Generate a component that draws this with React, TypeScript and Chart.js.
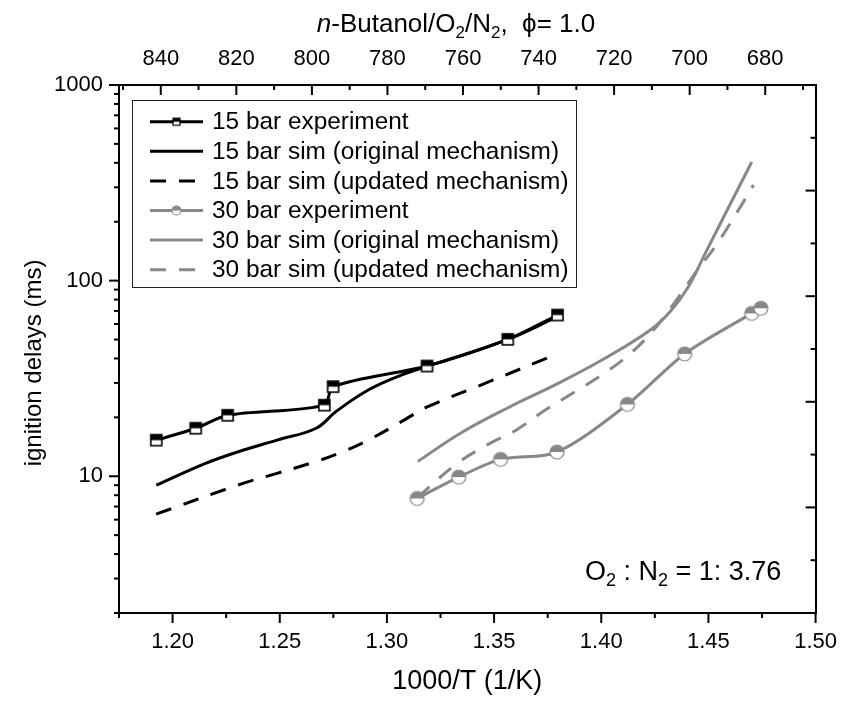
import { useEffect, useRef } from "react";
import { Chart, registerables } from "chart.js";

Chart.register(...registerables);

// ---------- axis ranges & ticks ----------
const xRange = [1.175, 1.5];
const yRange = [2, 1000];
const rightRange = [0, 5];

const xMajorTicks = [1.2, 1.25, 1.3, 1.35, 1.4, 1.45, 1.5];
const xMinorTicks = [1.175, 1.225, 1.275, 1.325, 1.375, 1.425, 1.475];
const tempMajorTicks = [840, 820, 800, 780, 760, 740, 720, 700, 680];
const tempMinorTicks = [850, 830, 810, 790, 770, 750, 730, 710, 690, 670];
const yMajorTicks = [10, 100, 1000];
const yMinorTicks = [2, 3, 4, 5, 6, 7, 8, 9, 20, 30, 40, 50, 60, 70, 80, 90, 200, 300, 400, 500, 600, 700, 800, 900];
const rightMajorTicks = [0, 1, 2, 3, 4, 5];
const rightMinorTicks = [0.5, 1.5, 2.5, 3.5, 4.5];

// ---------- data ----------
const exp15X = [1.1924, 1.2108, 1.2257, 1.2708, 1.2749, 1.3187, 1.3564, 1.3796];
const exp15Y = [15.3, 17.6, 20.5, 23.1, 28.7, 36.6, 50.1, 66.7];

const sim15OrigX = [1.1924, 1.2151, 1.2303, 1.2487, 1.267, 1.2762, 1.2913, 1.3067, 1.3205, 1.3564, 1.3796];
const sim15OrigY = [9.0, 11.6, 13.3, 15.3, 17.6, 21.4, 27.6, 32.9, 37.0, 50.1, 65.4];

const sim15UpdX = [1.1923, 1.2303, 1.2487, 1.2638, 1.2776, 1.2913, 1.3067, 1.3188, 1.3463, 1.3801];
const sim15UpdY = [6.4, 9.0, 10.35, 11.6, 13.1, 15.3, 19.0, 22.6, 30.0, 42.5];

const exp30X = [1.3141, 1.3335, 1.353, 1.3793, 1.4122, 1.4389, 1.4702, 1.4745];
const exp30Y = [7.7, 9.9, 12.2, 13.3, 23.3, 42.2, 68.0, 72.2];

const sim30OrigX = [1.3144, 1.3343, 1.3572, 1.3801, 1.403, 1.4229, 1.432, 1.4403, 1.4481, 1.4595, 1.4702];
const sim30OrigY = [11.9, 16.6, 22.6, 29.9, 40.8, 55.9, 69.1, 91.7, 135, 238, 404];

const sim30UpdX = [1.3142, 1.3327, 1.3464, 1.3602, 1.3739, 1.3877, 1.4014, 1.4137, 1.4244, 1.4351, 1.4443, 1.4536, 1.4632, 1.471];
const sim30UpdY = [7.8, 11.6, 14.4, 17.2, 21.8, 27.0, 33.6, 42.5, 55.9, 79.6, 111, 152, 222, 308];

const seriesLabels = [
  "15 bar experiment",
  "15 bar sim (original mechanism)",
  "15 bar sim (updated mechanism)",
  "30 bar experiment",
  "30 bar sim (original mechanism)",
  "30 bar sim (updated mechanism)",
];

const xTitle = "1000/T (1/K)";
const yTitle = "ignition delays (ms)";

// ---------- styles ----------
const FAMILY = '"Liberation Sans", Arial, Helvetica, sans-serif';
const BLACK = "#000000";
const GRAY = "#888888";
const DASH = [16, 13];

type Run = { text: string; italic?: boolean; sub?: boolean };
const titleRuns: Run[] = [
  { text: "n", italic: true },
  { text: "-Butanol/O" },
  { text: "2", sub: true },
  { text: "/N" },
  { text: "2", sub: true },
  { text: ",  \u03D5= 1.0" },
];
const noteRuns: Run[] = [
  { text: "O" },
  { text: "2", sub: true },
  { text: " : N" },
  { text: "2", sub: true },
  { text: " = 1: 3.76" },
];

function pts(xs: number[], ys: number[]) {
  return xs.map((x, i) => ({ x, y: ys[i] }));
}

function makeSquareMarker(size: number, lw: number) {
  const pad = 2;
  const c = document.createElement("canvas");
  c.width = size + pad * 2;
  c.height = size + pad * 2;
  const g = c.getContext("2d")!;
  g.fillStyle = "#fff";
  g.fillRect(pad, pad, size, size);
  g.fillStyle = BLACK;
  g.fillRect(pad, pad, size, size / 2);
  g.strokeStyle = BLACK;
  g.lineWidth = lw;
  g.strokeRect(pad, pad, size, size);
  return c;
}

function makeCircleMarker(d: number, lw: number) {
  const pad = 2;
  const c = document.createElement("canvas");
  c.width = d + pad * 2;
  c.height = d + pad * 2;
  const g = c.getContext("2d")!;
  const cx = c.width / 2;
  const cy = c.height / 2;
  const r = d / 2;
  g.beginPath();
  g.arc(cx, cy, r, 0, Math.PI * 2);
  g.fillStyle = "#fff";
  g.fill();
  g.beginPath();
  g.arc(cx, cy, r, Math.PI, Math.PI * 2);
  g.closePath();
  g.fillStyle = GRAY;
  g.fill();
  g.beginPath();
  g.arc(cx, cy, r, 0, Math.PI * 2);
  g.strokeStyle = GRAY;
  g.lineWidth = lw;
  g.stroke();
  return c;
}

function tickList(major: number[], minor: number[]) {
  return [...major, ...minor]
    .sort((a, b) => a - b)
    .map((v) => ({ value: v, major: major.some((m) => Math.abs(m - v) < 1e-9) }));
}

function isIn(list: number[], v: number) {
  return list.some((m) => Math.abs(m - v) < 1e-9);
}

function drawRich(ctx: CanvasRenderingContext2D, runs: Run[], x: number, y: number, size: number, align: "left" | "center") {
  const fontFor = (r: Run) => `${r.italic ? "italic " : ""}${r.sub ? Math.round(size * 0.65) : size}px ${FAMILY}`;
  let total = 0;
  for (const r of runs) {
    ctx.font = fontFor(r);
    total += ctx.measureText(r.text).width;
  }
  let cx = align === "center" ? x - total / 2 : x;
  ctx.textAlign = "left";
  ctx.textBaseline = "alphabetic";
  ctx.fillStyle = BLACK;
  for (const r of runs) {
    ctx.font = fontFor(r);
    ctx.fillText(r.text, cx, r.sub ? y + size * 0.24 : y);
    cx += ctx.measureText(r.text).width;
  }
}

export default function App() {
  const ref = useRef<HTMLCanvasElement | null>(null);

  useEffect(() => {
    if (!ref.current) return;
    const sq = makeSquareMarker(11, 1.6);
    const ci = makeCircleMarker(14, 1.2);
    const sqSmall = makeSquareMarker(7, 1.2);
    const ciSmall = makeCircleMarker(9, 1.2);

    const tickPlugin = {
      id: "axisTicks",
      afterDraw(chart: any) {
        const ctx = chart.ctx as CanvasRenderingContext2D;
        const { left, right, top, bottom } = chart.chartArea;
        ctx.save();
        ctx.strokeStyle = BLACK;
        ctx.lineWidth = 2;
        const run = (id: string, major: number[], fn: (p: number, len: number) => void) => {
          const s = chart.scales[id];
          for (const t of s.ticks) {
            const p = s.getPixelForValue(t.value);
            fn(p, isIn(major, t.value) ? 10 : 5);
          }
        };
        run("x", xMajorTicks, (p, len) => {
          ctx.beginPath(); ctx.moveTo(p, bottom); ctx.lineTo(p, bottom + len); ctx.stroke();
        });
        run("x2", tempMajorTicks, (p, len) => {
          ctx.beginPath(); ctx.moveTo(p, top); ctx.lineTo(p, top + len); ctx.stroke();
        });
        run("y", yMajorTicks, (p, len) => {
          ctx.beginPath(); ctx.moveTo(left, p); ctx.lineTo(left - len, p); ctx.stroke();
        });
        run("y2", rightMajorTicks, (p, len) => {
          ctx.beginPath(); ctx.moveTo(right, p); ctx.lineTo(right - len, p); ctx.stroke();
        });
        ctx.restore();
      },
    };

    const textPlugin = {
      id: "texts",
      afterDraw(chart: any) {
        const ctx = chart.ctx as CanvasRenderingContext2D;
        const area = chart.chartArea;
        ctx.save();
        // title
        drawRich(ctx, titleRuns, 456, 32, 26, "center");
        // annotation
        drawRich(ctx, noteRuns, area.left + 466, area.bottom - 33, 27, "left");

        // y-axis title
        ctx.save();
        ctx.translate(34, (area.top + area.bottom) / 2 + 14);
        ctx.rotate(-Math.PI / 2);
        ctx.font = `24px ${FAMILY}`;
        ctx.fillStyle = BLACK;
        ctx.textAlign = "center";
        ctx.textBaseline = "middle";
        ctx.fillText(yTitle, 0, 0);
        ctx.restore();

        // legend
        const bx = area.left + 13;
        const by = area.top + 15;
        const bw = 444;
        const bh = 187;
        ctx.fillStyle = "#fff";
        ctx.fillRect(bx, by, bw, bh);
        ctx.strokeStyle = "#222";
        ctx.lineWidth = 1;
        ctx.strokeRect(bx + 0.5, by + 0.5, bw, bh);
        const rowH = 29.6;
        const firstY = by + 21.7;
        const sx0 = bx + 18;
        const sx1 = bx + 71;
        const ds = chart.data.datasets;
        for (let i = 0; i < seriesLabels.length; i++) {
          const d = ds[i];
          const yy = firstY + i * rowH;
          ctx.save();
          ctx.strokeStyle = d.borderColor;
          ctx.lineWidth = d.borderWidth;
          ctx.setLineDash(d.borderDash || []);
          ctx.beginPath();
          ctx.moveTo(sx0, yy);
          ctx.lineTo(sx1, yy);
          ctx.stroke();
          ctx.restore();
          if (i === 0) ctx.drawImage(sqSmall, (sx0 + sx1) / 2 - sqSmall.width / 2, yy - sqSmall.height / 2);
          if (i === 3) ctx.drawImage(ciSmall, (sx0 + sx1) / 2 - ciSmall.width / 2, yy - ciSmall.height / 2);
          ctx.fillStyle = BLACK;
          ctx.font = `24.4px ${FAMILY}`;
          ctx.textAlign = "left";
          ctx.textBaseline = "middle";
          ctx.fillText(seriesLabels[i], bx + 80, yy + 1);
        }
        ctx.restore();
      },
    };

    const tickFont = { family: FAMILY, size: 22 };
    const hiddenGrid = { display: false, drawTicks: false, tickLength: 0 };
    const border = { display: true, color: BLACK, width: 2 };

    const chart = new Chart(ref.current, {
      type: "scatter",
      data: {
        datasets: [
          {
            label: seriesLabels[0],
            data: pts(exp15X, exp15Y),
            showLine: true,
            borderColor: BLACK,
            borderWidth: 3,
            tension: 0.3,
            pointStyle: sq as any,
            pointRadius: 6,
          },
          {
            label: seriesLabels[1],
            data: pts(sim15OrigX, sim15OrigY),
            showLine: true,
            borderColor: BLACK,
            borderWidth: 3,
            tension: 0.4,
            pointRadius: 0,
          },
          {
            label: seriesLabels[2],
            data: pts(sim15UpdX, sim15UpdY),
            showLine: true,
            borderColor: BLACK,
            borderWidth: 3,
            borderDash: DASH,
            tension: 0.4,
            pointRadius: 0,
          },
          {
            label: seriesLabels[3],
            data: pts(exp30X, exp30Y),
            showLine: true,
            borderColor: GRAY,
            borderWidth: 3,
            tension: 0.3,
            pointStyle: ci as any,
            pointRadius: 6,
          },
          {
            label: seriesLabels[4],
            data: pts(sim30OrigX, sim30OrigY),
            showLine: true,
            borderColor: GRAY,
            borderWidth: 3,
            tension: 0.4,
            pointRadius: 0,
          },
          {
            label: seriesLabels[5],
            data: pts(sim30UpdX, sim30UpdY),
            showLine: true,
            borderColor: GRAY,
            borderWidth: 3,
            borderDash: DASH,
            tension: 0.4,
            pointRadius: 0,
          },
        ] as any,
      },
      options: {
        responsive: false,
        animation: false,
        devicePixelRatio: 1,
        layout: { padding: 0 },
        plugins: {
          legend: { display: false },
          tooltip: { enabled: false },
        },
        scales: {
          x: {
            type: "linear",
            position: "bottom",
            min: xRange[0],
            max: xRange[1],
            afterBuildTicks: (s: any) => { s.ticks = tickList(xMajorTicks, xMinorTicks); },
            afterFit: (s: any) => { s.height = 89; },
            grid: hiddenGrid,
            border,
            ticks: {
              autoSkip: false,
              maxRotation: 0,
              padding: 16,
              color: BLACK,
              font: tickFont,
              callback: (v: any) => (isIn(xMajorTicks, Number(v)) ? Number(v).toFixed(2) : ""),
            },
            title: {
              display: true,
              text: xTitle,
              color: BLACK,
              font: { family: FAMILY, size: 27 },
              padding: { top: 0, bottom: 4 },
            },
          },
          x2: {
            type: "linear",
            position: "top",
            min: 1000 / xRange[1],
            max: 1000 / xRange[0],
            reverse: true,
            afterBuildTicks: (s: any) => { s.ticks = tickList(tempMajorTicks, tempMinorTicks); },
            afterFit: (s: any) => { s.height = 85; },
            grid: hiddenGrid,
            border,
            ticks: {
              autoSkip: false,
              maxRotation: 0,
              padding: 13,
              color: BLACK,
              font: tickFont,
              callback: (v: any) => (isIn(tempMajorTicks, Number(v)) ? String(v) : ""),
            },
          },
          y: {
            type: "logarithmic",
            position: "left",
            min: yRange[0],
            max: yRange[1],
            afterBuildTicks: (s: any) => { s.ticks = tickList(yMajorTicks, yMinorTicks); },
            afterFit: (s: any) => { s.width = 119; },
            grid: hiddenGrid,
            border,
            ticks: {
              autoSkip: false,
              padding: 16,
              color: BLACK,
              font: tickFont,
              callback: (v: any) => (isIn(yMajorTicks, Number(v)) ? String(v) : ""),
            },
          },
          y2: {
            type: "linear",
            position: "right",
            min: rightRange[0],
            max: rightRange[1],
            afterBuildTicks: (s: any) => { s.ticks = tickList(rightMajorTicks, rightMinorTicks); },
            afterFit: (s: any) => { s.width = 25; },
            grid: hiddenGrid,
            border,
            ticks: { display: false },
          },
        },
      } as any,
      plugins: [tickPlugin, textPlugin],
    });
    return () => chart.destroy();
  }, []);

  return (
    <div style={{ position: "fixed", left: 0, top: 0, width: 853, height: 702, background: "#fff" }}>
      <canvas ref={ref} width={853} height={702} style={{ width: 853, height: 702, display: "block" }} />
    </div>
  );
}
